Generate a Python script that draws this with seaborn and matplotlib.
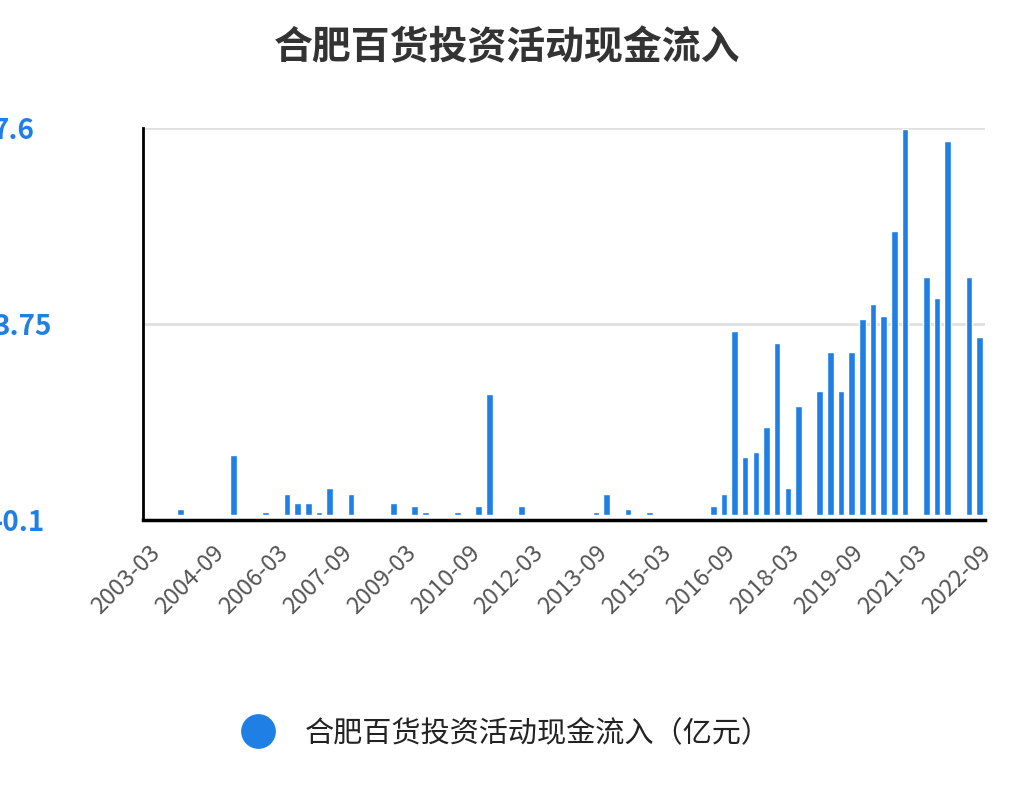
import matplotlib
matplotlib.use("Agg")
import matplotlib.pyplot as plt
import seaborn as sns
import pandas as pd
from matplotlib.lines import Line2D

dates = ["2003-12","2005-03","2005-12","2006-06","2006-09","2006-12","2007-03","2007-06","2007-12",
         "2008-12","2009-06","2009-09","2010-06","2010-12","2011-03","2011-12","2013-09","2013-12",
         "2014-06","2014-12","2016-06","2016-09","2016-12","2017-03","2017-06","2017-09","2017-12",
         "2018-03","2018-06","2018-12","2019-03","2019-06","2019-09","2019-12","2020-03","2020-06",
         "2020-09","2020-12","2021-06","2021-09","2021-12","2022-06","2022-09"]
values = [0.12,1.18,0.06,0.41,0.24,0.24,0.06,0.53,0.41,
          0.24,0.18,0.06,0.06,0.18,2.37,0.18,0.06,0.41,
          0.12,0.05,0.18,0.41,3.61,1.13,1.24,1.72,3.38,
          0.53,2.13,2.43,3.20,2.43,3.20,3.85,4.15,3.91,
          5.57,7.58,4.68,4.26,7.34,4.68,3.49]
tick_labels = ["2003-03","2004-09","2006-03","2007-09","2009-03","2010-09","2012-03",
               "2013-09","2015-03","2016-09","2018-03","2019-09","2021-03","2022-09"]
yticks = [-0.1, 3.75, 7.6]
series_name = "合肥百货投资活动现金流入（亿元）"
title = "合肥百货投资活动现金流入"

def months(s):
    y, m = map(int, s.split("-"))
    return (y - 2003) * 12 + (m - 3)

df = pd.DataFrame({"m": [months(d) for d in dates], "v": values})
blue = "#1f7fe5"

sns.set_theme(style="white")
plt.rcParams['font.family'] = ['Noto Sans CJK SC', 'DejaVu Sans']

fig = plt.figure(figsize=(10.14, 8.1), dpi=100)
ax = fig.add_axes([143/1014, 1-520/810, (985-143)/1014, (520-128)/810])
sns.barplot(data=df, x="m", y="v", native_scale=True, width=0.62, color=blue,
            saturation=1, ax=ax, bottom=0)
ax.set_xlim(-1.5, 235.5)
ax.set_ylim(-0.1, 7.6)
ax.set_yticks(yticks)
ax.set_yticklabels(["-0.1", "3.75", "7.6"], color=blue, fontsize=20, fontweight="bold")
tpos = [months(t) for t in tick_labels]
ax.set_xticks(tpos)
ax.set_xticklabels(tick_labels, rotation=45, ha="right", rotation_mode="anchor",
                   fontsize=17, color="#555555")
ax.tick_params(axis="x", direction="out", length=12, width=2, color="black", pad=3)
ax.tick_params(axis="y", direction="out", length=0, pad=108)
for lbl in ax.get_yticklabels():
    lbl.set_ha("left")
for y in [3.75, 7.6]:
    ax.axhline(y, color="#e0e0e0", lw=2, zorder=0)
for s in ["top", "right"]:
    ax.spines[s].set_visible(False)
ax.spines["left"].set_color("black"); ax.spines["left"].set_linewidth(2)
ax.spines["bottom"].set_color("black"); ax.spines["bottom"].set_linewidth(2.5)
ax.set_xlabel(""); ax.set_ylabel("")

fig.text(0.5, 1-48/810, title, ha="center", va="center", fontsize=28,
         fontweight="bold", color="#333333")
h = Line2D([], [], marker="o", ls="", color=blue, markersize=24)
fig.legend([h], [series_name], loc="center", bbox_to_anchor=(500/1014, 1-733/810),
           frameon=False, fontsize=21, handletextpad=0.6, labelcolor="#222222")
fig.savefig("out.png", dpi=100)
